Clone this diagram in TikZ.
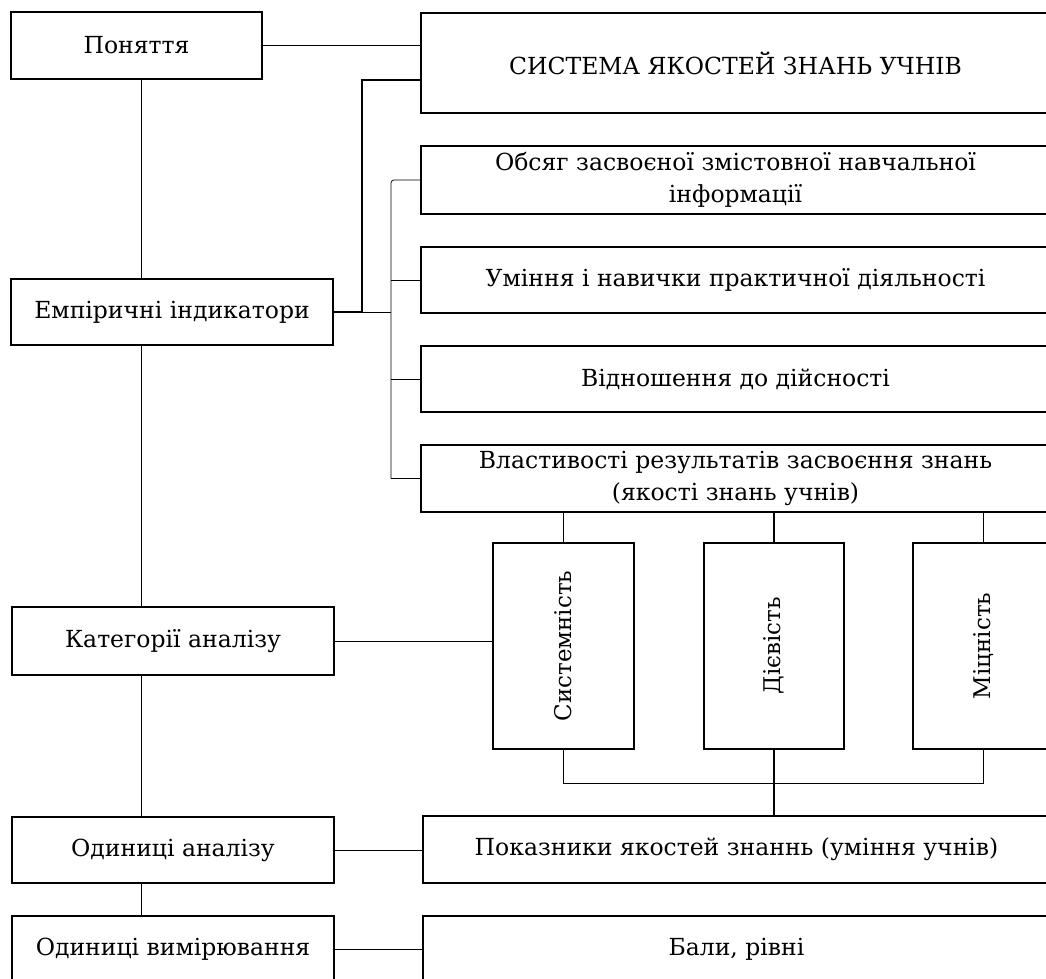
\documentclass[tikz,border=0pt]{standalone}
\usepackage{fontspec}
\setmainfont{DejaVu Serif}
\begin{document}
\begin{tikzpicture}[x=1pt,y=-1pt,
  box/.style={draw, line width=1.3pt, inner sep=0pt, anchor=center, align=center, font=\fontsize{23.5}{32}\selectfont},
  vtext/.style={rotate=90, inner sep=0pt, font=\fontsize{23}{32}\selectfont},
  conn/.style={line width=1pt},
  thinconn/.style={line width=0.7pt},
  heavy/.style={line width=1.5pt}]
\useasboundingbox (0,0) rectangle (1046,979);
\fill[white] (0,0) rectangle (1046,979);
\clip (0,0) rectangle (1046,979);
% left column
\node[box, minimum width=251pt, minimum height=67pt] (pon) at (136.5,45.5) {Поняття};
\node[box, minimum width=322pt, minimum height=66pt] (emp) at (172,312) {Емпіричні індикатори};
\node[box, minimum width=322pt, minimum height=68pt] (kat) at (173,641) {Категорії аналізу};
\node[box, minimum width=322pt, minimum height=66pt] (oda) at (173,850) {Одиниці аналізу};
\node[box, minimum width=322pt, minimum height=67pt] (odv) at (173,949.5) {Одиниці вимірювання};
% right column
\node[box, minimum width=629pt, minimum height=100pt] (sys) at (735.5,63) {СИСТЕМА ЯКОСТЕЙ ЗНАНЬ УЧНІВ};
\node[box, minimum width=629pt, minimum height=68pt] (obs) at (735.5,180) {Обсяг засвоєної змістовної навчальної\\інформації};
\node[box, minimum width=629pt, minimum height=66pt] (umi) at (735.5,280) {Уміння і навички практичної діяльності};
\node[box, minimum width=629pt, minimum height=66pt] (vid) at (735.5,379) {Відношення до дійсності};
\node[box, minimum width=629pt, minimum height=67pt] (vla) at (735.5,478.5) {Властивості результатів засвоєння знань\\(якості знань учнів)};
\node[box, minimum width=141pt, minimum height=206pt] (sy) at (563.5,646) {};
\node[box, minimum width=140pt, minimum height=206pt] (di) at (774,646) {};
\node[box, minimum width=141pt, minimum height=206pt] (mi) at (983.5,646) {};
\node[vtext] (syt) at (sy.center) {Системність};
\node[vtext] (dit) at (di.center) {Дієвість};
\node[vtext] (mit) at (mi.center) {Міцність};
\node[box, minimum width=627pt, minimum height=67pt] (pok) at (736.5,849.5) {Показники якостей знаннь (уміння учнів)};
\node[box, minimum width=627pt, minimum height=67pt] (bal) at (736.5,949.5) {Бали, рівні};
% helper coordinates
\coordinate (colx) at (141,0);
\coordinate (j1) at (362,80);
\coordinate (bus) at (391,0);
\coordinate (hb) at (0,783);
% left column connectors
\draw[thinconn] (colx |- pon.south) -- (colx |- emp.north);
\draw[thinconn] (colx |- emp.south) -- (colx |- kat.north);
\draw[thinconn] (colx |- kat.south) -- (colx |- oda.north);
\draw[thinconn] (colx |- oda.south) -- (colx |- odv.north);
% horizontal links
\draw[conn] (pon.east) -- (pon.east -| sys.west);
\draw[heavy] (emp.east) -| (j1) -- (j1 -| sys.west);
\draw[conn] (emp.east) -- (bus |- emp.east);
\draw[thinconn, rounded corners=3pt] (obs.west) -- (bus |- obs.west) -- (bus |- vla.west);
\draw[conn] (bus |- umi.west) -- (umi.west);
\draw[conn] (bus |- vid.west) -- (vid.west);
\draw[conn] (bus |- vla.west) -- (vla.west);
\draw[conn] (kat.east) -- (kat.east -| sy.west);
\draw[conn] (oda.east) -- (oda.east -| pok.west);
\draw[conn] (odv.east) -- (odv.east -| bal.west);
% qualities
\draw[thinconn] (sy.north |- vla.south) -- (sy.north);
\draw[heavy] (di.north |- vla.south) -- (di.north);
\draw[thinconn] (mi.north |- vla.south) -- (mi.north);
\draw[conn] (sy.south) -- (sy.south |- hb) -- (mi.south |- hb) -- (mi.south);
\draw[heavy] (di.south) -- (di.south |- pok.north);
\end{tikzpicture}
\end{document}
